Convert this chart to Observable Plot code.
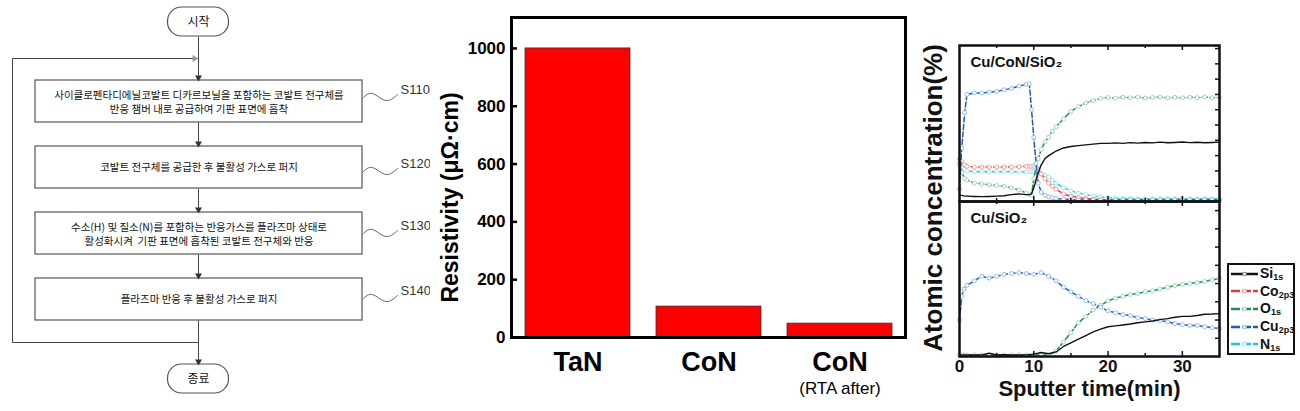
<!DOCTYPE html>
<html><head><meta charset="utf-8">
<script src="https://cdn.jsdelivr.net/npm/d3@7"></script>
<script src="https://cdn.jsdelivr.net/npm/@observablehq/plot@0.6"></script>
<style>
body{margin:0;background:#fff;}
#page{position:relative;width:1300px;height:411px;overflow:hidden;background:#fff;font-family:"Liberation Sans",Arial,sans-serif;}
.abs{position:absolute;}
#legend{left:1227px;top:263px;width:68px;height:92px;border:2px solid #111;box-sizing:border-box;background:#fff;overflow:visible;}
#legend .row{height:17.6px;display:flex;align-items:center;white-space:nowrap;font-weight:bold;font-size:14px;color:#111;}
#legend sub{font-size:9px;vertical-align:-2px;}
#ylab2{left:933px;top:198px;transform:translate(-50%,-50%) rotate(-90deg);font-weight:bold;font-size:26px;white-space:nowrap;color:#111;}
</style></head><body><div id="page">
<div id="flow" class="abs" style="left:0;top:0"></div>
<div id="bar" class="abs" style="left:430px;top:0"></div>
<div id="dtop" class="abs" style="left:910px;top:0"></div>
<div id="dbot" class="abs" style="left:910px;top:199px"></div>
<div id="ylab2" class="abs">Atomic concentration(%)</div>
<div id="legend" class="abs"></div>
</div>
<script>
// ---------------- Flowchart data ----------------
const flowSteps = ["S110", "S120", "S130", "S140"];
const flowText = [
  ["사이클로펜타디에닐코발트 디카르보닐을 포함하는 코발트 전구체를", "반응 챔버 내로 공급하여 기판 표면에 흡착"],
  ["코발트 전구체를 공급한 후 불활성 가스로 퍼지"],
  ["수소(H) 및 질소(N)를 포함하는 반응가스를 플라즈마 상태로", "활성화시켜  기판 표면에 흡착된 코발트 전구체와 반응"],
  ["플라즈마 반응 후 불활성 가스로 퍼지"]
];
const flowTerminals = ["시작", "종료"];

// ---------------- Bar chart data ----------------
const barCats = ["TaN", "CoN", "CoN (RTA after)"];
const barMain = ["TaN", "CoN", "CoN"];
const barSub = ["", "", "(RTA after)"];
const resistivity = [1000, 107, 48];
const barYTicks = [0, 200, 400, 600, 800, 1000];

// ---------------- Depth profile data ----------------
const panelTitles = ["Cu/CoN/SiO₂", "Cu/SiO₂"];
const seriesNames = ["Si", "Co", "O", "Cu", "N"];
const seriesSubs = ["1s", "2p3", "1s", "2p3", "1s"];
const xTicks = [0, 10, 20, 30];

const timeTop = [0,0.3,0.7,1,2,3,4,5,6,7,8,9,9.4,9.7,10,10.3,10.6,11,11.5,12,12.5,13,14,15,16,17,18,19,20,21,22,23,24,25,26,27,28,29,30,31,32,33,34,35];
const si1sTop = [4,4,3.5,3.5,3.3,3.2,3.3,3.5,3.8,4.5,5,4.5,4.5,5,9,14,19,24,28,30,31.5,33,35,36,36.5,37,37.5,38,38,38.3,38,38.5,38.2,38.6,38.3,38.8,38.4,38.6,38.9,38.5,38.7,38.4,38.6,38.8];
const co2p3Top = [28,26,24,23,22.5,22.5,22.5,22.5,22.5,22.5,22.8,23,23,23,23,22.5,21,18,15,12,10,8,5,3.5,2.5,2,1.5,1.2,1,1,1,1,1,1,1,1,1,1,1,1,1,1,1,1];
const o1sTop = [24,19,15,14,12,11.5,11,10.5,10,9,7.5,5.5,4.5,4,15,22,28,34,39,42,46,49,54,59,62,64.5,66,67.5,68,67.5,68.2,67.8,68.3,67.6,68,68.4,67.7,68.1,67.8,68.2,67.9,68.3,67.8,68];
const cu2p3Top = [8,35,58,70,71,71,71.5,72,73,74,75.5,76.5,77,60,42,25,12,6,4,3,2.5,2,1.5,1.2,1,1,1,1,1,1,1,1,1,1,1,1,1,1,1,1,1,1,1,1];
const n1sTop = [26,23,21,20,19.5,19.5,19.5,19.5,19.5,19.5,19.5,19.5,19.5,19.5,19.5,19.5,19,18,17,16,14,12,9,7,5.5,4.5,3.5,3,2.5,2.3,2,2,1.8,1.8,1.8,1.8,1.8,1.8,1.8,1.8,1.8,1.8,1.8,1.8];

const timeBot = [0,0.3,0.6,1,2,3,4,5,6,7,8,9,10,11,12,13,14,15,16,17,18,19,20,21,22,23,24,25,26,27,28,29,30,31,32,33,34,35];
const si1sBot = [0.8,0.8,0.8,0.8,0.8,0.9,1.8,0.8,1,0.8,0.8,0.9,1.3,2.2,1.5,2.5,5.5,7.5,9.5,11.5,13.5,15,16.3,16.8,17.3,17.8,18.5,19,19.5,20.2,20.8,21.5,22,22,22.5,23.2,23.3,23.5];
const o1sBot = [0.8,0.8,0.8,0.8,0.8,0.8,0.8,0.8,0.8,0.8,0.8,0.8,0.8,0.8,0.8,3,8,13,18.5,22,25.5,28,30.5,32,33,34,34.5,35.5,36,37,38,38.8,39.5,40,40.5,41.2,42,42.8];
const cu2p3Bot = [20,33,37,39,41.5,44,43,44,45,45.5,46,45.5,45,46,44,41.5,38,35.5,33,30.6,29,27,25,24,23,22.4,21.3,20.8,20,19.7,19,18,17.5,17,17,16.4,15.8,15.3];

// ---------------- styles ----------------
const lineColor = {Si: "#111111", Co: "#e53935", O: "#1f8f4e", Cu: "#1e5bb8", N: "#17c8d8"};
const markColor = {Si: null, Co: "#f3a1a1", O: "#9fd9b9", Cu: "#93bdec", N: "#9de7ee"};

// ================= Flowchart =================
(function(){
  const cx = 198, bx1 = 35, bx2 = 362, top0 = 80, step = 66, bh = 42;
  const termW = 61, termH = 29, startTop = 7, endTop = 364;
  const loopX = 12, loopTop = 58, loopBot = 342;
  const labelDy = [9, 17, 13, 12];
  const boxes = flowSteps.map((s, i) => ({id: s, y1: top0 + i * step, y2: top0 + i * step + bh}));
  const terms = flowTerminals.map((t, i) => ({text: t, y1: i ? endTop : startTop, y2: (i ? endTop : startTop) + termH}));
  const lines = [];
  boxes.forEach((b, i) => {
    const tl = flowText[i];
    tl.forEach((t, j) => lines.push({text: t, y: tl.length === 1 ? (b.y1 + b.y2) / 2 : b.y1 + 15 + j * 14}));
  });
  const links = [
    {x1: cx, y1: terms[0].y2, x2: cx, y2: boxes[0].y1},
    {x1: loopX, y1: loopTop, x2: cx, y2: loopTop},
    {x1: loopX, y1: loopTop, x2: loopX, y2: loopBot},
    {x1: loopX, y1: loopBot, x2: cx, y2: loopBot},
    {x1: cx, y1: boxes[3].y2, x2: cx, y2: terms[1].y1}
  ];
  for (let i = 0; i < 3; i++) links.push({x1: cx, y1: boxes[i].y2, x2: cx, y2: boxes[i + 1].y1});
  const heads = [boxes[0].y1, boxes[1].y1, boxes[2].y1, boxes[3].y1, terms[1].y1].map(y => ({x: cx, y: y - 3, rot: 180, c: "#333"}));
  heads.push({x: cx - 4, y: loopTop, rot: 90, c: "#999"});
  const labels = boxes.map((b, i) => ({text: b.id, y: b.y1 + labelDy[i]}));
  const wave = [];
  labels.forEach((l, i) => {
    [[bx2, 9], [372, 4], [385, 11], [397, 5]].forEach(([x, d]) => wave.push({k: i, x, y: l.y + d}));
  });
  const chart = Plot.plot({
    width: 430, height: 411, margin: 0,
    x: {domain: [0, 430], range: [0, 430], axis: null},
    y: {domain: [0, 411], range: [0, 411], axis: null},
    style: {fontFamily: "'Noto Sans CJK KR', sans-serif", background: "transparent"},
    marks: [
      Plot.link(links, {x1: "x1", y1: "y1", x2: "x2", y2: "y2", stroke: "#444", strokeWidth: 1}),
      Plot.rect(boxes, {x1: bx1, x2: bx2, y1: "y1", y2: "y2", fill: "white", stroke: "#555", strokeWidth: 1.2}),
      Plot.rect(terms, {x1: cx - termW / 2, x2: cx + termW / 2, y1: "y1", y2: "y2", rx: 14, fill: "white", stroke: "#555", strokeWidth: 1.2}),
      Plot.text(terms, {x: cx, y: d => (d.y1 + d.y2) / 2, text: "text", fontSize: 12, fill: "#111"}),
      Plot.text(lines, {x: (bx1 + bx2) / 2, y: "y", text: "text", fontSize: 10.5, fill: "#111"}),
      Plot.dot(heads, {x: "x", y: "y", symbol: "triangle", r: 2.6, fill: "c", stroke: "none", rotate: "rot"}),
      Plot.line(wave, {x: "x", y: "y", z: "k", curve: "natural", stroke: "#666", strokeWidth: 1}),
      Plot.text(labels, {x: 400, y: "y", text: "text", textAnchor: "start", fontSize: 13, fill: "#333", fontFamily: "Liberation Sans, Arial, sans-serif"})
    ]
  });
  document.getElementById("flow").append(chart);
})();

// ================= Bar chart =================
(function(){
  const data = barCats.map((c, i) => ({cat: c, value: resistivity[i], sub: barSub[i]}));
  const innerW = 480 - 81 - 5;
  const chart = Plot.plot({
    width: 480, height: 411, marginLeft: 81, marginRight: 5, marginTop: 17, marginBottom: 74,
    style: {fontFamily: "Liberation Sans, Arial, sans-serif", color: "#000", background: "transparent"},
    x: {domain: barCats, paddingInner: 0.2, paddingOuter: 0.1, axis: null},
    y: {domain: [0, 1107], axis: null},
    marks: [
      Plot.barY(data, {x: "cat", y: "value", fill: "#ff0000", stroke: "#333", strokeWidth: 0.8}),
      Plot.tickY(barYTicks, {y: d => d, insetRight: innerW - 6, stroke: "#000", strokeWidth: 2.5}),
      Plot.axisY({ticks: barYTicks, tickSize: 0, tickPadding: 6, fontSize: 17, fontWeight: "bold", label: null, tickFormat: d => String(d)}),
      Plot.axisX({tickSize: 0, tickPadding: 14, fontSize: 27, fontWeight: "bold", label: null, tickFormat: d => barMain[barCats.indexOf(d)]}),
      Plot.text(data, {x: "cat", text: "sub", frameAnchor: "bottom", dy: 56, fontSize: 17}),
      Plot.text(["Resistivity (μΩ·cm)"], {frameAnchor: "left", textAnchor: "middle", lineAnchor: "middle", rotate: -90, dx: -61, dy: 20, fontSize: 23, fontWeight: "bold"}),
      Plot.frame({stroke: "#000", strokeWidth: 3})
    ]
  });
  document.getElementById("bar").append(chart);
})();

// ================= Depth profiles =================
function makeRows(time, cols) {
  const rows = [];
  for (const [name, vals] of cols) vals.forEach((v, i) => rows.push({series: name, t: time[i], v}));
  return rows;
}
function depthPlot({rows, order, yMax, title, height, marginTop, marginBottom, showX}) {
  const innerW = 390 - 49 - 81, innerH = height - marginTop - marginBottom;
  const marks = [];
  for (const s of order) {
    const d = rows.filter(r => r.series === s);
    marks.push(Plot.line(d, {x: "t", y: "v", stroke: lineColor[s], strokeWidth: s === "Si" ? 1.4 : 1.5, strokeDasharray: s === "Si" ? null : "5,2.5"}));
    if (markColor[s]) marks.push(Plot.dot(d, {x: "t", y: "v", r: 2, stroke: markColor[s], fill: "white", strokeWidth: 1}));
  }
  const majors = [10, 20, 30], minors = [5, 15, 25];
  marks.push(
    Plot.tickX(majors, {x: d => d, insetBottom: innerH - 5, stroke: "#111", strokeWidth: 1.5}),
    Plot.tickX(minors, {x: d => d, insetBottom: innerH - 3, stroke: "#111", strokeWidth: 1.5}),
    Plot.tickX(majors, {x: d => d, insetTop: innerH - 5, stroke: "#111", strokeWidth: 1.5}),
    Plot.tickX(minors, {x: d => d, insetTop: innerH - 3, stroke: "#111", strokeWidth: 1.5}),
    Plot.tickY(d3.range(10, yMax, 10), {y: d => d, insetLeft: innerW - 4, stroke: "#111", strokeWidth: 1.5}),
    Plot.text([title], {frameAnchor: "top-left", dx: 11, dy: 11, fontSize: 15, fontWeight: "bold", fill: "#111"}),
    Plot.frame({stroke: "#111", strokeWidth: 2.5})
  );
  if (showX) {
    marks.push(
      Plot.axisX({ticks: xTicks, tickSize: 0, tickPadding: 3, fontSize: 17, fontWeight: "bold", label: null}),
      Plot.text(["Sputter time(min)"], {frameAnchor: "bottom", textAnchor: "middle", lineAnchor: "middle", dy: 32, fontSize: 22, fontWeight: "bold", fill: "#111"})
    );
  }
  return Plot.plot({
    width: 390, height, marginLeft: 49, marginRight: 81, marginTop, marginBottom,
    style: {fontFamily: "Liberation Sans, Arial, sans-serif", color: "#111", background: "transparent"},
    x: {domain: [0, 35], axis: null},
    y: {domain: [0, yMax], axis: null},
    marks
  });
}
const rowsTop = makeRows(timeTop, [["Si", si1sTop], ["Co", co2p3Top], ["O", o1sTop], ["Cu", cu2p3Top], ["N", n1sTop]]);
const rowsBot = makeRows(timeBot, [["Si", si1sBot], ["O", o1sBot], ["Cu", cu2p3Bot]]);
document.getElementById("dtop").append(depthPlot({rows: rowsTop, order: ["N", "Co", "O", "Cu", "Si"], yMax: 102, title: panelTitles[0], height: 203, marginTop: 45, marginBottom: 2, showX: false}));
document.getElementById("dbot").append(depthPlot({rows: rowsBot, order: ["O", "Cu", "Si"], yMax: 85, title: panelTitles[1], height: 212, marginTop: 2, marginBottom: 55, showX: true}));

// legend
const legend = document.getElementById("legend");
seriesNames.forEach((n, i) => {
  const row = document.createElement("div");
  row.className = "row";
  const c = lineColor[n];
  row.innerHTML = `<svg width="29" height="10" style="flex:none;margin-left:1px;margin-right:1px"><line x1="1" y1="5" x2="28" y2="5" stroke="${c}" stroke-width="2.5" ${n === "Si" ? "" : 'stroke-dasharray="9,2"'}/><circle cx="14.5" cy="5" r="1.8" fill="white" stroke="${markColor[n] || "#777"}" stroke-width="1"/></svg><span>${n}<sub>${seriesSubs[i]}</sub></span>`;
  legend.append(row);
});
</script>
</body></html>
